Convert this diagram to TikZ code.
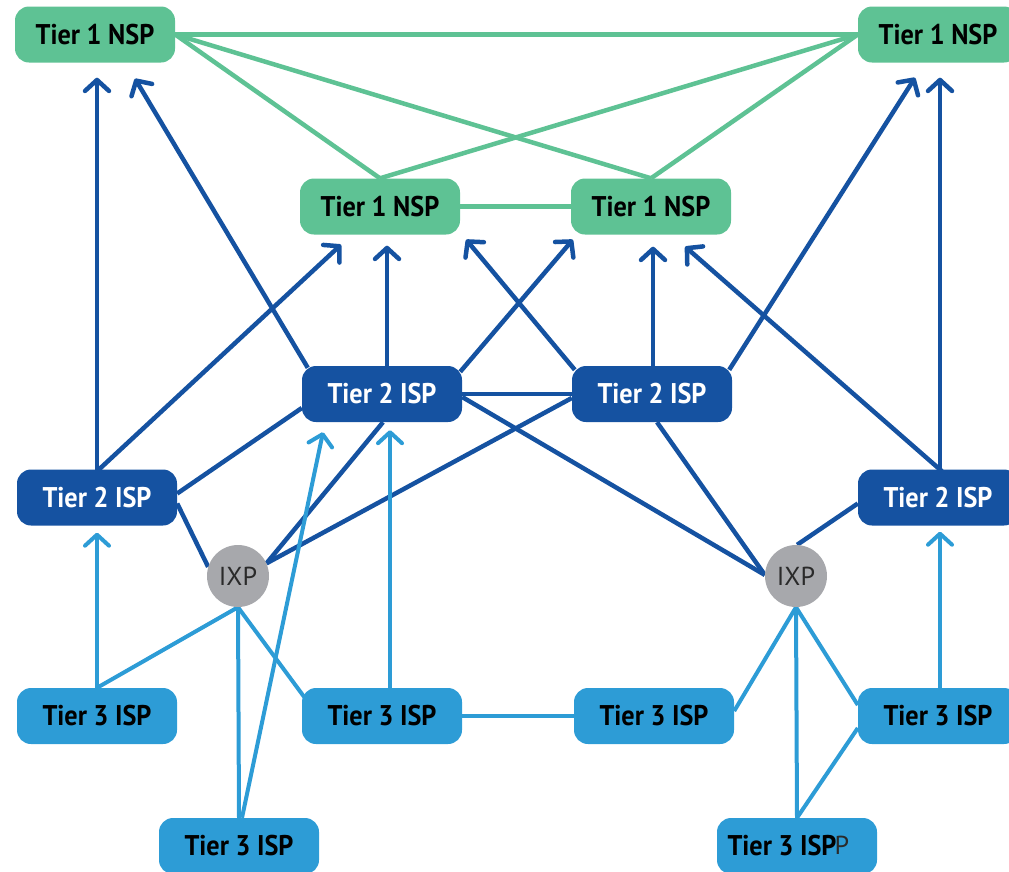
\documentclass[tikz,border=0pt]{standalone}
\usepackage{fontspec}
\setmainfont{PT Sans}[FakeStretch=0.92]
\newfontfamily\ixfont{PT Sans}
\usetikzlibrary{arrows.meta,calc,backgrounds}
\definecolor{tgreen}{HTML}{5EC294}
\definecolor{tblue}{HTML}{1552A1}
\definecolor{lblue}{HTML}{2D9CD6}
\definecolor{ixgray}{HTML}{A7A8AC}
\definecolor{ixtext}{HTML}{2A2A2A}
\begin{document}
\begin{tikzpicture}[x=1pt,y=-1pt,
  boxfont/.style={font=\fontsize{28.5}{28.5}\selectfont\bfseries},
  box/.style={rounded corners=14pt, minimum width=160pt, minimum height=56pt, inner sep=0pt, boxfont},
  nsp/.style={box, fill=tgreen, text=black},
  tii/.style={box, fill=tblue, text=white},
  tiii/.style={box, fill=lblue, text=black},
  ixfontstyle/.style={text=ixtext, font=\ixfont\fontsize{26}{26}\selectfont},
  ixp/.style={circle, fill=ixgray, minimum size=62pt, inner sep=0pt, ixfontstyle},
  gl/.style={draw=tgreen, line width=4.5pt},
  dl/.style={draw=tblue, line width=4.5pt},
  ll/.style={draw=lblue, line width=4pt},
  arr/.style={-{Straight Barb[length=11pt,width=24pt,round]}},
]
\useasboundingbox (0,0) rectangle (1009,871);
\clip (0,0) rectangle (1009,871);
% nodes
\node[nsp] (t1a) at (95,34.5) {Tier 1 NSP};
\node[nsp] (t1d) at (938,34.5) {Tier 1 NSP};
\node[nsp] (t1b) at (380,206.5) {Tier 1 NSP};
\node[nsp] (t1c) at (651,206.5) {Tier 1 NSP};
\node[tii] (t2b) at (382,394) {Tier 2 ISP};
\node[tii] (t2c) at (652,394) {Tier 2 ISP};
\node[tii] (t2a) at (97,497.5) {Tier 2 ISP};
\node[tii] (t2d) at (938,497.5) {Tier 2 ISP};
\node[ixp] (ixa) at (238,576) {IXP};
\node[ixp] (ixb) at (796,576) {IXP};
\node[tiii] (t3a) at (97,716) {Tier 3 ISP};
\node[tiii] (t3b) at (382,716) {Tier 3 ISP};
\node[tiii] (t3c) at (654,716) {Tier 3 ISP};
\node[tiii] (t3d) at (938,716) {Tier 3 ISP};
\node[tiii] (t3e) at (239,846) {Tier 3 ISP};
\node[tiii] (t3f) at (797,846) {};
\node[boxfont, inner sep=0pt] (t3ft) at (782,846) {Tier 3 ISP};
\node[ixfontstyle, inner sep=0pt] (pp) at (842,845) {P};
\begin{pgfonlayer}{background}
% green peering
\draw[gl] (t1a.east) -- (t1d.west);
\draw[gl] (t1a.east) -- (t1b.north);
\draw[gl] (t1a.east) -- (t1c.north);
\draw[gl] (t1d.west) -- (t1b.north);
\draw[gl] (t1d.west) -- (t1c.north);
\draw[gl] (t1b.east) -- (t1c.west);
% dark blue arrows
\draw[dl,arr] ($(t2a.north)+(0,2)$) -- ($(t1a.south)+(2,15)$);
\draw[dl,arr] ($(t2b.north west)+(6,2)$) -- ($(t1a.south)+(40,16)$);
\draw[dl,arr] ($(t2a.north)+(0,2)$) -- ($(t1b.south)+(-39,10)$);
\draw[dl,arr] ($(t2b.north)+(5,0)$) -- ($(t1b.south)+(7,11)$);
\draw[dl,arr] ($(t2b.north east)+(-2,6)$) -- ($(t1c.south west)+(2,5)$);
\draw[dl,arr] ($(t2c.north west)+(3,4)$) -- ($(t1b.south east)+(6,5)$);
\draw[dl,arr] ($(t2c.north)+(1,0)$) -- ($(t1c.south)+(2,12)$);
\draw[dl,arr] ($(t2d.north)+(4,2)$) -- ($(t1c.south east)+(-46,12)$);
\draw[dl,arr] ($(t2c.north east)+(-3,4)$) -- ($(t1d.south)+(-23,15)$);
\draw[dl,arr] ($(t2d.north)+(2,2)$) -- ($(t1d.south)+(2,15)$);
% dark blue links
\draw[dl] ($(t2a.east)+(0,-4)$) -- ($(t2b.west)+(0,14)$);
\draw[dl] ($(t2a.east)+(0,6)$) -- (ixa.163);
\draw[dl] (t2b.east) -- (t2c.west);
\draw[dl] ($(t2b.east)+(0,3)$) -- (ixb.178);
\draw[dl] ($(t2c.west)+(0,4)$) -- (ixa.24);
\draw[dl] ($(t2b.south)+(1,0)$) -- (ixa.24);
\draw[dl] ($(t2c.south)+(5,0)$) -- (ixb.178);
\draw[dl] ($(t2d.west)+(0,6)$) -- (ixb.88);
% light blue
\draw[ll,arr] (t3a.north) -- ($(t2a.south)+(0,7)$);
\draw[ll] (t3a.north) -- (ixa.south);
\draw[ll] (ixa.south) -- ($(t3b.north west)+(3,10)$);
\draw[ll] (ixa.south) -- (t3e.north);
\draw[ll,arr] ($(t3e.north)+(3,0)$) -- ($(t2b.south)+(-59,10)$);
\draw[ll,arr] ($(t3b.north)+(8,0)$) -- ($(t2b.south)+(8,8)$);
\draw[ll] (t3b.east) -- (t3c.west);
\draw[ll] ($(t3c.east)+(0,-5)$) -- (ixb.south);
\draw[ll] (ixb.south) -- ($(t3d.west)+(0,-11)$);
\draw[ll] (ixb.south) -- (t3f.north);
\draw[ll] ($(t3d.west)+(0,12)$) -- (t3f.north);
\draw[ll,arr] ($(t3d.north)+(2,0)$) -- ($(t2d.south)+(2,6)$);
\end{pgfonlayer}
\end{tikzpicture}
\end{document}
